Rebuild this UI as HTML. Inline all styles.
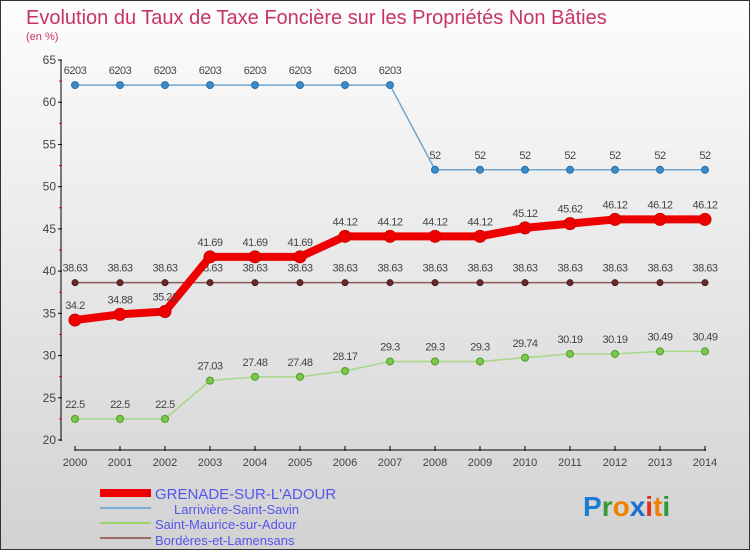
<!DOCTYPE html>
<html><head><meta charset="utf-8"><style>
body{margin:0;width:750px;height:550px;overflow:hidden;font-family:"Liberation Sans",sans-serif}
#c{position:absolute;left:0;top:0;width:748px;height:548px;border:1px solid #333;background:linear-gradient(#fdfdfd,#d2d2d2)}
</style></head><body>
<div id="c">
<svg id="s" width="750" height="550" style="position:absolute;left:-1px;top:-1px">
<text x="26" y="24" font-size="20" fill="#c8336a">Evolution du Taux de Taxe Foncière sur les Propriétés Non Bâties</text>
<text x="26" y="40" font-size="11" fill="#c8336a">(en %)</text>
<g id="axes"></g><g id="series"></g>
<g>
<rect x="100" y="489" width="51" height="8" fill="#e00"/>
<text x="155" y="499" font-size="15" fill="#5555ee">GRENADE-SUR-L'ADOUR</text>
<rect x="100" y="507" width="51" height="2" fill="#7ab0d6"/>
<text x="174" y="514" font-size="13" fill="#5555ee">Larrivière-Saint-Savin</text>
<rect x="100" y="522" width="51" height="2" fill="#9ed36a"/>
<text x="155" y="529" font-size="13" fill="#5555ee">Saint-Maurice-sur-Adour</text>
<rect x="100" y="537" width="51" height="2" fill="#9a6a6a"/>
<text x="155" y="545" font-size="13" fill="#5555ee">Bordères-et-Lamensans</text>
</g>
<text x="583" y="516" font-size="28" font-weight="bold"><tspan fill="#1a7fd4">P</tspan><tspan fill="#3a9a3a">r</tspan><tspan fill="#f08000">o</tspan><tspan fill="#1a6fd0">x</tspan><tspan fill="#e03020">i</tspan><tspan fill="#f08000">t</tspan><tspan fill="#2a9a3a">i</tspan></text>
</svg></div>
<script>
const years=[2000,2001,2002,2003,2004,2005,2006,2007,2008,2009,2010,2011,2012,2013,2014];
const grenade=[34.2,34.88,35.21,41.69,41.69,41.69,44.12,44.12,44.12,44.12,45.12,45.62,46.12,46.12,46.12];
const larriviere=[62.03,62.03,62.03,62.03,62.03,62.03,62.03,62.03,52,52,52,52,52,52,52];
const stmaurice=[22.5,22.5,22.5,27.03,27.48,27.48,28.17,29.3,29.3,29.3,29.74,30.19,30.19,30.49,30.49];
const borderes=[38.63,38.63,38.63,38.63,38.63,38.63,38.63,38.63,38.63,38.63,38.63,38.63,38.63,38.63,38.63];
const yTicks=[20,25,30,35,40,45,50,55,60,65];
const NS="http://www.w3.org/2000/svg";
const x=i=>75+i*45;
const y=v=>440-(v-20)*(380/45);
function mk(t,a,p){const e=document.createElementNS(NS,t);for(const k in a)e.setAttribute(k,a[k]);p.appendChild(e);return e;}
const ax=document.getElementById('axes');
let e=mk('line',{x1:61,y1:60,x2:61,y2:441,stroke:'#000'},ax);


e=mk('line',{x1:75,y1:450,x2:706,y2:450,stroke:'#000'},ax);


yTicks.forEach(v=>{
 mk('line',{x1:58,x2:62,y1:y(v),y2:y(v),stroke:'#000'},ax);
 if(v<65) mk('line',{x1:59,x2:62,y1:y(v+2.5),y2:y(v+2.5),stroke:'#e00'},ax);
 const t=mk('text',{x:56,y:y(v)+4,'font-size':12,fill:'#444','text-anchor':'end'},ax);t.textContent=v;
 
 
});
years.forEach((yr,i)=>{
 mk('line',{x1:x(i),x2:x(i),y1:446,y2:451,stroke:'#000'},ax);
 const t=mk('text',{x:x(i),y:466,'font-size':11,fill:'#444','text-anchor':'middle'},ax);t.textContent=yr;
 
 
});
const sg=document.getElementById('series');
function series(d,name,col,w,dot,dotStroke,r,labels){
 const g=mk('g',{},sg);
 
 
 mk('polyline',{points:d.map((v,i)=>x(i)+','+y(v)).join(' '),fill:'none',stroke:col,'stroke-width':w,'stroke-linejoin':'round'},g);
 d.forEach((v,i)=>{
  const c=mk('circle',{cx:x(i),cy:y(v),r:r,fill:dot,stroke:dotStroke,'stroke-width':1},g);
  
  
  if(labels){const t=mk('text',{x:x(i),y:y(v)-11,'font-size':11,fill:'#444','text-anchor':'middle','letter-spacing':'-0.5'},g);t.textContent=String(v).replace('62.03','6203');
  
  }
 });
}
series(larriviere,'series-larriviere','#6ea6d2',1.5,'#3b8bc8','#2a6fa8',3.5,true);
series(stmaurice,'series-saint-maurice','#a6d888',1.5,'#7cc848','#4f9a2a',3.5,true);
series(borderes,'series-borderes','#8a5a5a',1.5,'#6a2a2a','#4a1a1a',3,true);
series(grenade,'series-grenade','#e00',8,'#e00','#c00',6,true);
</script>
</body></html>
